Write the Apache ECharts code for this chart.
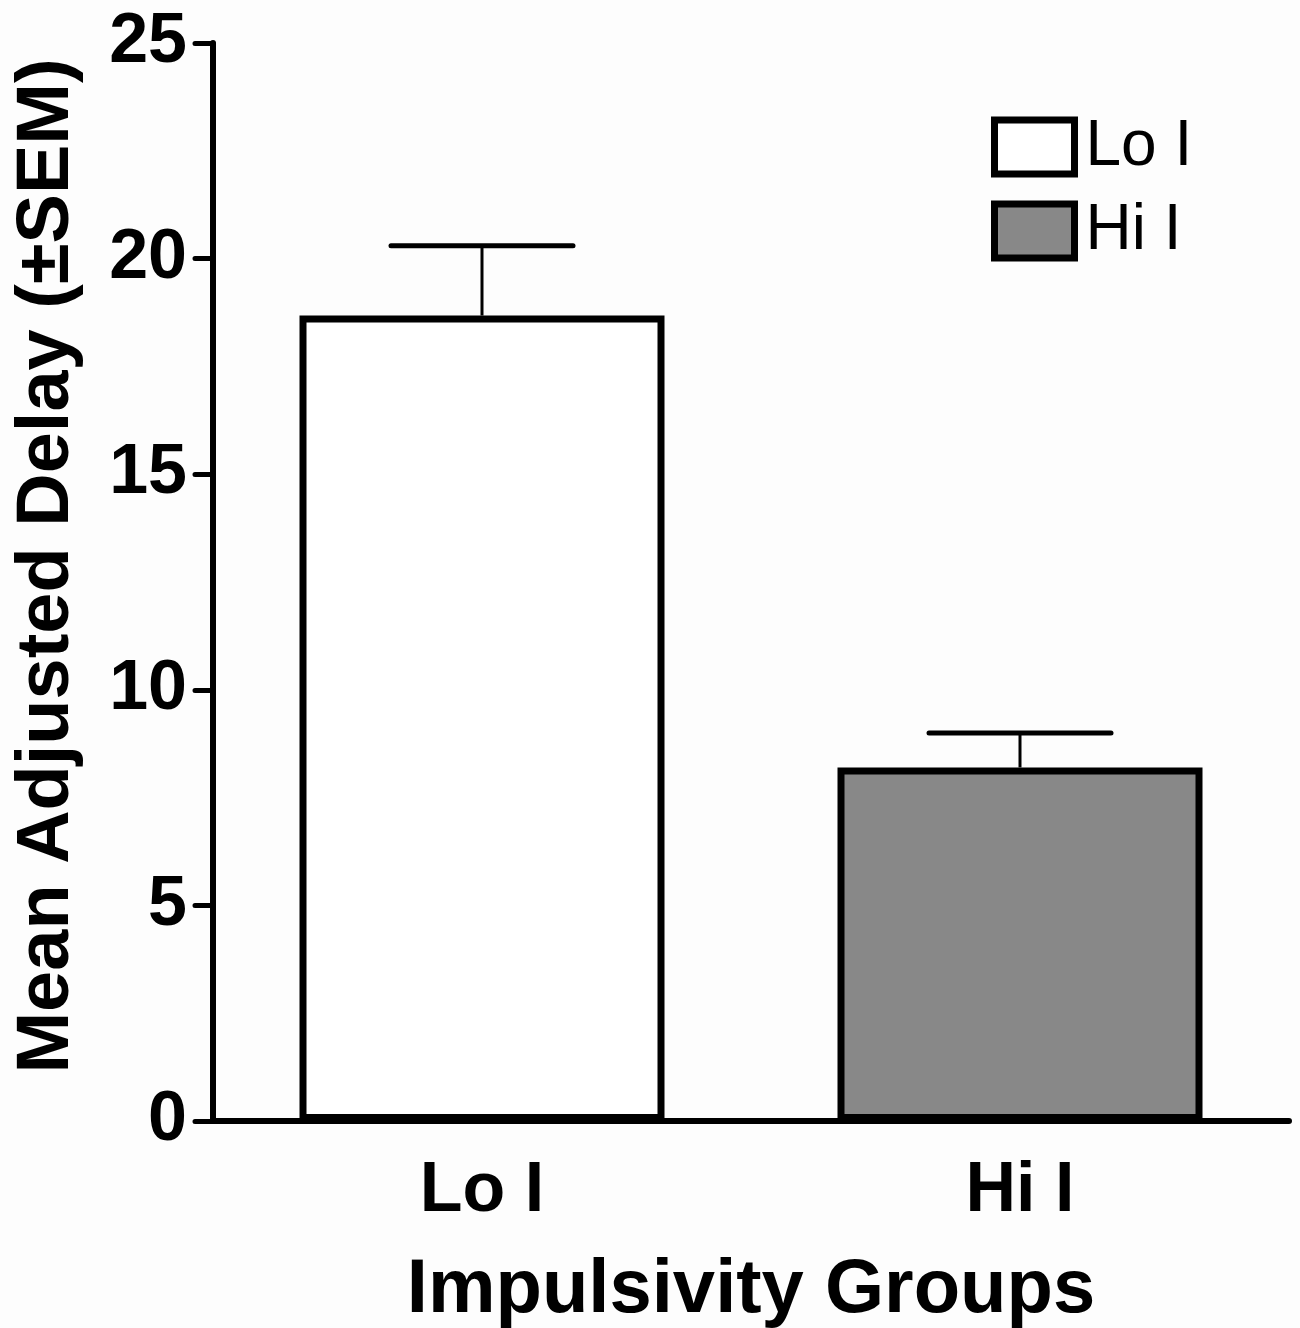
<!DOCTYPE html>
<html>
<head>
<meta charset="utf-8">
<script src="https://cdn.jsdelivr.net/npm/echarts@6/dist/echarts.min.js"></script>
<style>
html,body{margin:0;padding:0;background:#fdfdfd;}
#chart{width:1300px;height:1328px;}
</style>
</head>
<body>
<div id="chart"></div>
<script>
const categories = ['Lo I', 'Hi I'];
const seriesNames = ['Lo I', 'Hi I'];
const means = [18.68, 8.2];
const sems = [1.62, 0.8];
const yTicks = [0, 5, 10, 15, 20, 25];

const FONT = '"Liberation Sans", Arial, sans-serif';
const chart = echarts.init(document.getElementById('chart'), null, {renderer: 'canvas'});

const option = {
  backgroundColor: '#fdfdfd',
  animation: false,
  grid: {left: 213, right: 11, top: 43, bottom: 207, containLabel: false, outerBoundsMode: 'none'},
  legend: {
    left: 991, top: 115, orient: 'vertical', padding: 0,
    itemWidth: 80, itemHeight: 54, itemGap: 20,
    icon: 'rect',
    data: seriesNames,
    itemStyle: {borderColor: '#000', borderWidth: 7},
    textStyle: {fontFamily: FONT, fontSize: 64, color: '#000', padding: [0, 0, 0, 6]}
  },
  xAxis: {
    type: 'category', data: categories,
    axisLine: {lineStyle: {color: '#000', width: 6, cap: 'round'}},
    axisTick: {alignWithLabel: true, length: 18, lineStyle: {color: '#000', width: 5, cap: 'round'}},
    axisLabel: {margin: 36, fontFamily: FONT, fontWeight: 'bold', fontSize: 70, color: '#000'},
    name: 'Impulsivity Groups', nameLocation: 'middle', nameGap: 170,
    nameTextStyle: {fontFamily: FONT, fontWeight: 'bold', fontSize: 76, color: '#000', verticalAlign: 'middle'}
  },
  yAxis: {
    type: 'value', min: yTicks[0], max: yTicks[yTicks.length - 1], interval: 5,
    splitLine: {show: false},
    axisLine: {show: true, lineStyle: {color: '#000', width: 6}},
    axisTick: {show: true, length: 18, lineStyle: {color: '#000', width: 5, cap: 'round'}},
    axisLabel: {margin: 26, fontFamily: FONT, fontWeight: 'bold', fontSize: 70, color: '#000'},
    name: 'Mean Adjusted Delay (±SEM)', nameLocation: 'middle', nameGap: 165, nameRotate: 90,
    nameTextStyle: {fontFamily: FONT, fontWeight: 'bold', fontSize: 74, color: '#000', verticalAlign: 'middle', padding: [0, 0, 0, 32]}
  },
  series: [
    {
      name: seriesNames[0], type: 'bar', barWidth: 365, barGap: '-100%',
      data: [means[0], '-'],
      itemStyle: {color: '#ffffff', borderColor: '#000', borderWidth: 7},
      z: 3
    },
    {
      name: seriesNames[1], type: 'bar', barWidth: 365, barGap: '-100%',
      data: ['-', means[1]],
      itemStyle: {color: '#888888', borderColor: '#000', borderWidth: 7},
      z: 3
    },
    {
      type: 'custom', name: 'err', z: 2,
      data: categories.map((c, i) => [i, means[i], means[i] + sems[i]]),
      renderItem: function (params, api) {
        const base = api.coord([api.value(0), api.value(1)]);
        const top = api.coord([api.value(0), api.value(2)]);
        const half = 91;
        return {
          type: 'group',
          children: [
            {type: 'line', shape: {x1: base[0], y1: base[1], x2: top[0], y2: top[1]},
             style: {stroke: '#000', lineWidth: 3}},
            {type: 'line', shape: {x1: top[0] - half, y1: top[1], x2: top[0] + half, y2: top[1]},
             style: {stroke: '#000', lineWidth: 5, lineCap: 'round'}}
          ]
        };
      }
    }
  ]
};
chart.setOption(option);
</script>
</body>
</html>
